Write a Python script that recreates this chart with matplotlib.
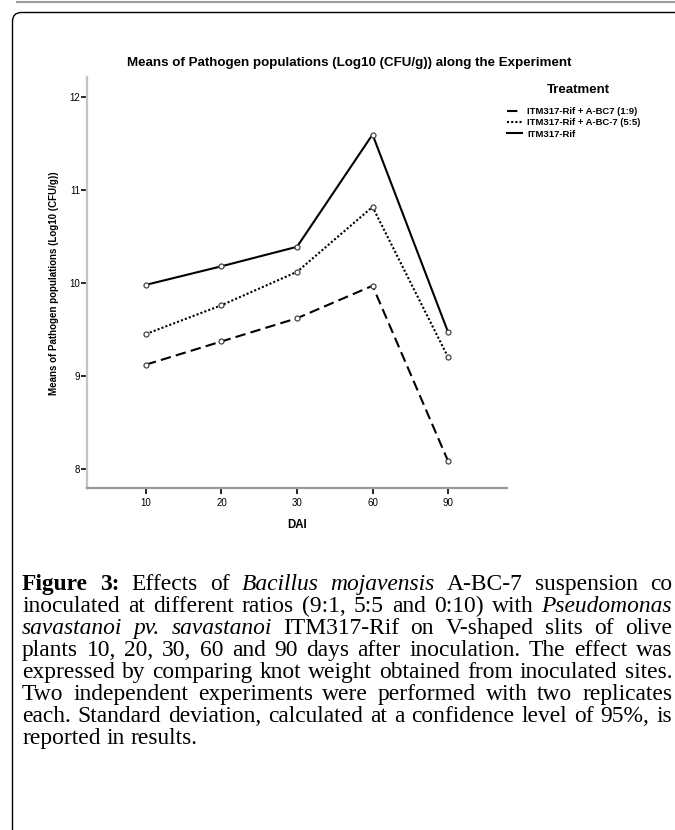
import matplotlib
matplotlib.use("Agg")
import matplotlib.pyplot as plt
from matplotlib.lines import Line2D
from matplotlib.patches import FancyBboxPatch
from matplotlib.transforms import IdentityTransform

# data (log10 CFU/g)
days = ["10", "20", "30", "60", "90"]
treatments = ["ITM317-Rif + A-BC7 (1:9)", "ITM317-Rif + A-BC-7 (5:5)", "ITM317-Rif"]
mix_19 = [9.12, 9.37, 9.62, 9.97, 8.08]
mix_55 = [9.45, 9.76, 10.12, 10.82, 9.20]
rif_only = [9.98, 10.18, 10.39, 11.60, 9.47]

caption = [
    [("Figure 3:", "b"), ("Effects of", "r"), ("Bacillus mojavensis", "i"), ("A-BC-7 suspension co", "r")],
    [("inoculated at different ratios (9:1, 5:5 and 0:10) with", "r"), ("Pseudomonas", "i")],
    [("savastanoi pv. savastanoi", "i"), ("ITM317-Rif on V-shaped slits of olive", "r")],
    [("plants 10, 20, 30, 60 and 90 days after inoculation. The effect was", "r")],
    [("expressed by comparing knot weight obtained from inoculated sites.", "r")],
    [("Two independent experiments were performed with two replicates", "r")],
    [("each. Standard deviation, calculated at a confidence level of 95%, is", "r")],
    [("reported in results.", "r")],
]

W, H = 675, 830
plt.rcParams["font.family"] = ["Liberation Sans", "DejaVu Sans"]


def fx(px):
    return px / W


def fy(py):
    return 1 - py / H


fig = plt.figure(figsize=(W / 100, H / 100), dpi=100)

# page decorations: grey rule on top and rounded frame
fig.add_artist(Line2D([17, W], [H - 1.5, H - 1.5], transform=IdentityTransform(),
                      color="#9a9a9a", lw=1.5))
frame = FancyBboxPatch((12.5, -60), 760, H - 12.5 + 60,
                       boxstyle="round,pad=0,rounding_size=9",
                       transform=IdentityTransform(), fill=False,
                       edgecolor="black", lw=1.0)
fig.add_artist(frame)

ax = fig.add_axes([fx(87), fy(488.5), (507 - 87) / W, (488.5 - 77) / H])
x = range(len(days))

styles = [(0, (5, 2.5)), (0, (1, 1)), "-"]
handles = []
for vals, ls, lab in zip([mix_19, mix_55, rif_only], styles, treatments):
    ln, = ax.plot(x, vals, color="black", lw=1.5, ls=ls, label=lab, zorder=2)
    ax.plot(x, vals, ls="none", marker="o", ms=3.6, mfc="white", mec="#444444",
            mew=0.9, zorder=3)
    handles.append(ln)

ax.set_xlim(-0.78, 4.78)
ax.set_ylim(7.785, 12.22)
ax.set_xticks(list(x))
ax.set_xticklabels(days)
ax.set_yticks([8, 9, 10, 11, 12])
ax.tick_params(axis="y", direction="out", length=4, width=1.2, pad=1, labelsize=7)
ax.tick_params(axis="x", direction="out", length=4, width=1.2, pad=3, labelsize=7)
for s in ["top", "right"]:
    ax.spines[s].set_visible(False)
ax.spines["left"].set_color("#c4c4c4")
ax.spines["left"].set_linewidth(1.7)
ax.spines["bottom"].set_color("#9a9a9a")
ax.spines["bottom"].set_linewidth(1.6)

fig.text(fx(349), fy(63), "Means of Pathogen populations (Log10 (CFU/g)) along the Experiment",
         ha="center", va="center", fontsize=9.6, fontweight="bold")
fig.text(fx(297), fy(525), "DAI", ha="center", va="center", fontsize=8.3, fontweight="bold")
fig.text(fx(54), fy(283), "Means of Pathogen populations (Log10 (CFU/g))", rotation=90,
         ha="center", va="center", fontsize=7, fontweight="bold")

fig.text(fx(578), fy(90), "Treatment", ha="center", va="center", fontsize=9.5, fontweight="bold")
fig.legend(handles=handles, loc="upper left", bbox_to_anchor=(fx(507), fy(107)),
           frameon=False, prop={"size": 6.8, "weight": "bold"}, handlelength=1.6,
           handletextpad=0.55, labelspacing=0.25, borderpad=0, borderaxespad=0)

# caption, justified word by word
renderer = fig.canvas.get_renderer()
font = {"b": {"fontweight": "bold"}, "i": {"fontstyle": "italic"}, "r": {}}
serif = ["Liberation Serif", "DejaVu Serif"]


def text_width(s, kind, size):
    t = fig.text(0, 0, s, fontsize=size, family=serif, **font[kind])
    w = t.get_window_extent(renderer).width
    t.remove()
    return w


ref_line = caption[4][0][0]
cap_size = 10 * 640 / text_width(ref_line, "r", 10)
space_w = text_width("a a", "r", cap_size) - text_width("aa", "r", cap_size)

left = 22
right = 672
for i, line in enumerate(caption):
    words = []
    for seg, kind in line:
        for w in seg.split(" "):
            words.append((w, kind, text_width(w, kind, cap_size)))
    total = sum(w[2] for w in words)
    if i == len(caption) - 1:
        gap = space_w
    else:
        gap = (right - left - total) / (len(words) - 1)
    xpos = left
    base = 590 + 22 * i
    for w, kind, wd in words:
        fig.text(fx(xpos), fy(base), w, fontsize=cap_size, family=serif,
                 va="baseline", ha="left", **font[kind])
        xpos += wd + gap

fig.savefig("out.png", dpi=100)
